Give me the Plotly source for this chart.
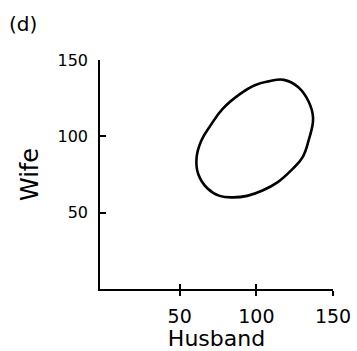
import plotly.graph_objects as go

# Contour points (Husband, Wife)
husband = [61, 64, 70, 78, 89, 99, 108, 118, 127, 134, 137, 134, 130, 123, 114, 104, 94, 85, 76, 68, 62, 61]
wife = [86, 97, 107, 118, 127.5, 133.5, 136, 137, 132.5, 123, 112, 97, 86, 78, 70, 64.5, 61, 60, 61, 66, 75.5, 86]

tick_vals = [50, 100, 150]
x_tick_text = ["50", "100", "150"]
y_tick_text = ["50", "100", "150"]

font_family = "DejaVu Sans"

fig = go.Figure()
fig.add_trace(go.Scatter(
    x=husband, y=wife, mode="lines",
    line=dict(color="black", width=2.6, shape="spline", smoothing=1.2),
    hoverinfo="skip", showlegend=False,
))
# helper trace so the overlay axis (inner tick halves) is drawn
fig.add_trace(go.Scatter(x=[None], y=[None], xaxis="x2", yaxis="y", showlegend=False, hoverinfo="skip"))

fig.update_layout(
    width=357, height=351,
    margin=dict(l=100, r=24, t=60, b=62, autoexpand=False),
    paper_bgcolor="white", plot_bgcolor="white",
    font=dict(family=font_family, color="black", size=15),
    xaxis=dict(
        range=[-2, 150], showgrid=False, zeroline=False, automargin=False,
        showline=True, linecolor="black", linewidth=1.6,
        ticks="outside", ticklen=5, tickwidth=1.5, tickcolor="black",
        tickvals=tick_vals, ticktext=x_tick_text,
        tickfont=dict(size=19), ticklabelstandoff=4,
        title=dict(text="Husband", font=dict(size=22), standoff=9),
    ),
    xaxis2=dict(
        range=[-2, 150], overlaying="x", side="bottom", showgrid=False, zeroline=False,
        showline=False, ticks="inside", ticklen=5, tickwidth=1.5, tickcolor="black",
        tickvals=tick_vals, showticklabels=False, automargin=False,
    ),
    yaxis=dict(
        range=[0, 150], showgrid=False, zeroline=False, automargin=False,
        showline=True, linecolor="black", linewidth=1.6,
        ticks="inside", ticklen=6, tickwidth=1.5, tickcolor="black",
        tickvals=tick_vals, ticktext=y_tick_text,
        tickfont=dict(size=16), ticklabelstandoff=7,
        title=dict(text="Wife", font=dict(size=24), standoff=12),
    ),
    annotations=[dict(
        text="(d)", xref="paper", yref="paper", x=-0.33, y=1.157,
        xanchor="center", yanchor="middle", showarrow=False,
        font=dict(size=20, family=font_family),
    )],
)

fig.write_html(
    "out.html",
    config={"displayModeBar": False},
    post_script="document.body.style.margin='0';",
)
